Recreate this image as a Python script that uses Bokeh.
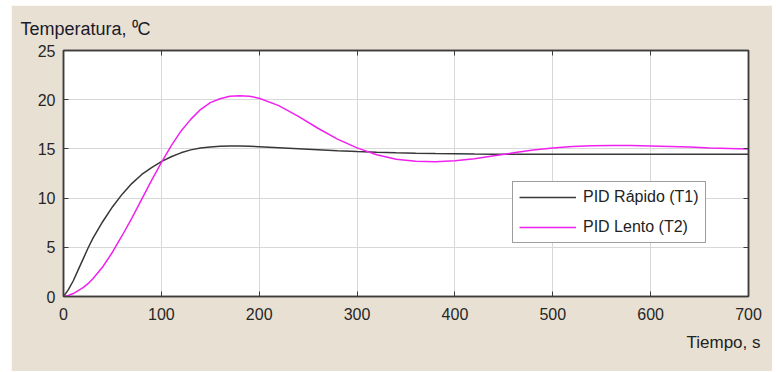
from bokeh.plotting import figure
from bokeh.models import (LinearAxis, Title, Legend, LegendItem, FixedTicker,
                          Range1d, CustomJSTickFormatter)
from bokeh.embed import file_html
from bokeh.resources import INLINE

# ---- data ----
t = [0, 5, 10, 15, 20, 25, 30, 40, 50, 60, 70, 80, 90, 100, 110, 120, 130, 140,
     150, 160, 170, 180, 190, 200, 220, 240, 260, 280, 300, 320, 340, 360, 380,
     400, 420, 440, 460, 480, 500, 520, 540, 560, 580, 600, 620, 640, 660, 680, 700]
t1_rapido = [0, 0.7, 1.6, 2.7, 3.8, 4.9, 5.9, 7.6, 9.1, 10.4, 11.5, 12.4, 13.1, 13.7,
             14.2, 14.6, 14.9, 15.1, 15.2, 15.27, 15.3, 15.3, 15.27, 15.22, 15.12, 15.02,
             14.92, 14.82, 14.73, 14.66, 14.6, 14.55, 14.52, 14.5, 14.47, 14.46, 14.45,
             14.45, 14.45, 14.45, 14.45, 14.45, 14.45, 14.45, 14.45, 14.45, 14.45,
             14.45, 14.45]
t2_lento = [0, 0.1, 0.3, 0.6, 0.9, 1.3, 1.8, 3.0, 4.5, 6.2, 8.0, 9.9, 11.8, 13.6,
            15.3, 16.8, 18.0, 19.0, 19.7, 20.1, 20.35, 20.4, 20.35, 20.15, 19.4, 18.3,
            17.1, 16.0, 15.1, 14.4, 13.95, 13.75, 13.7, 13.8, 14.0, 14.3, 14.6, 14.9,
            15.1, 15.25, 15.33, 15.35, 15.35, 15.3, 15.25, 15.2, 15.1, 15.05, 15.0]
x_ticks = [0, 100, 200, 300, 400, 500, 600, 700]
y_ticks = [0, 5, 10, 15, 20, 25]
series_names = ["PID Rápido (T1)", "PID Lento (T2)"]
title_text = "Temperatura, \u2070C"
xlabel_text = "Tiempo, s"

BG = "#E8E1D3"
DARK = "#3C3C3C"
GRID = "#D8D8D8"
FONT = "Liberation Sans"

p = figure(frame_width=685, frame_height=246,
           min_border_left=52, min_border_right=24,
           min_border_top=45, min_border_bottom=75,
           x_range=Range1d(0, 700), y_range=Range1d(0, 25),
           output_backend="svg", toolbar_location=None,
           background_fill_color="white", border_fill_color=BG,
           styles={"margin-left": "11px", "margin-top": "5px"})

p.outline_line_color = DARK
p.outline_line_width = 1.5

xt = FixedTicker(ticks=x_ticks, minor_ticks=[])
yt = FixedTicker(ticks=y_ticks, minor_ticks=[])

bottom_ax = p.xaxis[0]
left_ax = p.yaxis[0]
bottom_ax.ticker = xt
left_ax.ticker = yt

p.xgrid.ticker = xt
p.ygrid.ticker = yt
p.grid.grid_line_color = GRID
p.grid.grid_line_width = 1

top_ax = LinearAxis(ticker=xt, formatter=CustomJSTickFormatter(code="return ''"))
right_ax = LinearAxis(ticker=yt, formatter=CustomJSTickFormatter(code="return ''"))
p.add_layout(top_ax, "above")
p.add_layout(right_ax, "right")

for ax in [bottom_ax, left_ax, top_ax, right_ax]:
    ax.axis_line_color = DARK
    ax.axis_line_width = 1.5
    ax.major_tick_in = 5
    ax.major_tick_out = 0
    ax.major_tick_line_color = DARK
    ax.minor_tick_line_color = None
    ax.major_label_text_font = FONT
    ax.major_label_text_font_size = "16px"
    ax.major_label_text_color = "#262626"

bottom_ax.major_label_standoff = 11
left_ax.major_label_standoff = 8
top_ax.major_label_standoff = 0
right_ax.major_label_standoff = 0

r1 = p.line(t, t1_rapido, line_color="#383838", line_width=1.5)
r2 = p.line(t, t2_lento, line_color="#F020F0", line_width=1.5)

legend = Legend(items=[LegendItem(label=series_names[0], renderers=[r1]),
                       LegendItem(label=series_names[1], renderers=[r2])],
                location=(449, 53), orientation="vertical",
                padding=6, spacing=12, margin=0,
                glyph_width=57, glyph_height=16, label_height=16,
                label_standoff=7,
                label_text_font=FONT, label_text_font_size="16px",
                label_text_color="#222222",
                border_line_color=DARK, border_line_width=1.2,
                background_fill_color="white", background_fill_alpha=1)
p.add_layout(legend)

p.add_layout(Title(text=title_text, align="left", offset=-43, standoff=23,
                   text_font=FONT, text_font_size="18px",
                   text_font_style="normal", text_color="#1A1A2A"), "above")
p.add_layout(Title(text=xlabel_text, align="right", offset=-12, standoff=17,
                   text_font=FONT, text_font_size="17px",
                   text_font_style="normal", text_color="#222222"), "below")

open("out.html", "w").write(file_html(p, INLINE))
